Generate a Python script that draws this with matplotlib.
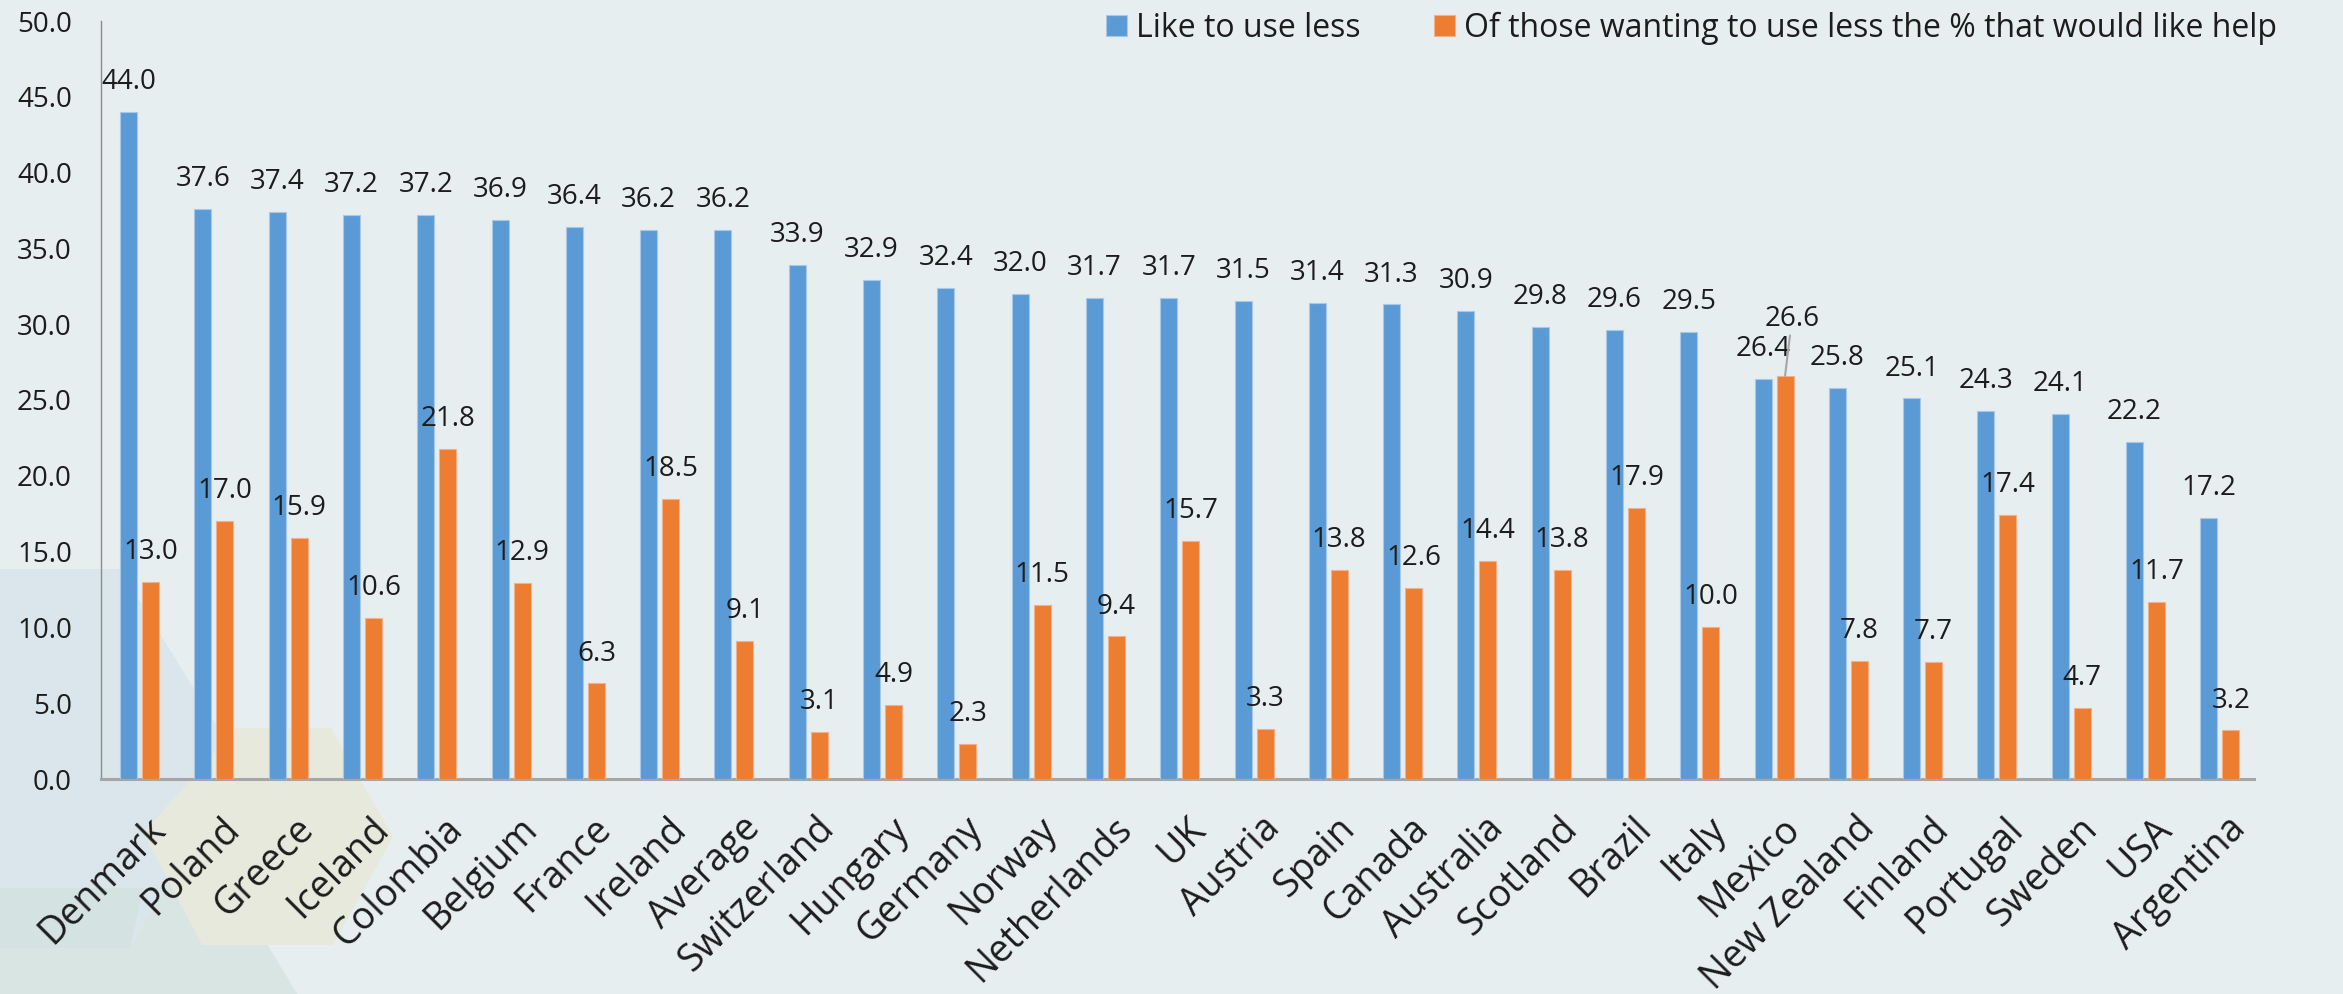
import matplotlib
matplotlib.use("Agg")
import matplotlib.pyplot as plt
import numpy as np
from matplotlib.patches import Polygon
from matplotlib.transforms import ScaledTranslation

plt.rcParams['font.family'] = ['Open Sans', 'DejaVu Sans']

categories = ["Denmark", "Poland", "Greece", "Iceland", "Colombia", "Belgium", "France",
              "Ireland", "Average", "Switzerland", "Hungary", "Germany", "Norway",
              "Netherlands", "UK", "Austria", "Spain", "Canada", "Australia", "Scotland",
              "Brazil", "Italy", "Mexico", "New Zealand", "Finland", "Portugal", "Sweden",
              "USA", "Argentina"]
like_less = [44.0, 37.6, 37.4, 37.2, 37.2, 36.9, 36.4, 36.2, 36.2, 33.9, 32.9, 32.4, 32.0,
             31.7, 31.7, 31.5, 31.4, 31.3, 30.9, 29.8, 29.6, 29.5, 26.4, 25.8, 25.1, 24.3,
             24.1, 22.2, 17.2]
want_help = [13.0, 17.0, 15.9, 10.6, 21.8, 12.9, 6.3, 18.5, 9.1, 3.1, 4.9, 2.3, 11.5,
             9.4, 15.7, 3.3, 13.8, 12.6, 14.4, 13.8, 17.9, 10.0, 26.6, 7.8, 7.7, 17.4,
             4.7, 11.7, 3.2]
series_names = ["Like to use less", "Of those wanting to use less the % that would like help"]
yticks = [0, 5, 10, 15, 20, 25, 30, 35, 40, 45, 50]

W, H = 2343, 994
BG = "#E6EEF0"
BLUE = "#5B9BD5"
ORANGE = "#ED7D31"
TXT = "#1c1c1c"

fig = plt.figure(figsize=(W / 100, H / 100), dpi=100, facecolor=BG)

def px(points):
    return [(x / W, 1 - y / H) for x, y in points]

# decorative background shapes (bottom-left)
shapes = [
    ([(0, 569), (120, 569), (250, 780), (200, 833), (297, 994), (0, 994)], "#DAE6EB"),
    ([(0, 948), (130, 948), (200, 833), (297, 994), (0, 994)], "#D9E5E2"),
    ([(0, 888), (143, 888), (130, 948), (0, 948)], "#D4E2E2"),
    ([(236, 728), (331, 728), (393, 837), (333, 945), (202, 945), (143, 833)], "#E6E9DC"),
]
for pts, col in shapes:
    fig.add_artist(Polygon(px(pts), closed=True, transform=fig.transFigure,
                           facecolor=col, edgecolor="none", zorder=-5))

ax = fig.add_axes([101 / W, 1 - 779 / H, (2254 - 101) / W, (779 - 21) / H])
ax.set_facecolor("none")

x = np.arange(len(categories))
bw = 0.229
off = 0.148
b1 = ax.bar(x - off, like_less, bw, color=BLUE, edgecolor="#A9C8E8", linewidth=0.8,
            label=series_names[0], zorder=3)
b2 = ax.bar(x + off, want_help, bw, color=ORANGE, edgecolor="#F3B08A", linewidth=0.8,
            label=series_names[1], zorder=3)

for xi, v in zip(x - off, like_less):
    ax.annotate(f"{v:.1f}", (xi, v), xytext=(0, 11.5), textcoords="offset points",
                ha="center", va="bottom", fontsize=20, color=TXT)
for i, (xi, v) in enumerate(zip(x + off, want_help)):
    if categories[i] == "Mexico":
        ax.annotate(f"{v:.1f}", (xi, v), xytext=(5, 31), textcoords="offset points",
                    ha="center", va="bottom", fontsize=20, color=TXT,
                    arrowprops=dict(arrowstyle="-", color="#a6a6a6", lw=1.5,
                                    shrinkA=0, shrinkB=0))
    else:
        ax.annotate(f"{v:.1f}", (xi, v), xytext=(0, 11.5), textcoords="offset points",
                    ha="center", va="bottom", fontsize=20, color=TXT)

ax.set_xlim(-0.52, len(categories) - 0.54)
ax.set_ylim(0, 50)
ax.set_yticks(yticks)
ax.set_yticklabels([f"{t:.1f}" for t in yticks], fontsize=20, color=TXT)
ax.set_xticks(x)
ax.set_xticklabels(categories, rotation=45, ha="right", rotation_mode="anchor",
                   fontsize=27, color=TXT)
ax.tick_params(axis="y", length=0, pad=21)
ax.tick_params(axis="x", length=0, pad=22)
shift = ScaledTranslation(7 / 100, 0, fig.dpi_scale_trans)
for lab in ax.get_xticklabels():
    lab.set_transform(lab.get_transform() + shift)

for s in ["top", "right"]:
    ax.spines[s].set_visible(False)
ax.spines["left"].set_color("#8c8c8c")
ax.spines["left"].set_linewidth(1.0)
ax.spines["bottom"].set_color("#a6a6a6")
ax.spines["bottom"].set_linewidth(2.2)

fig.legend(handles=[b1, b2], labels=series_names, loc="center right",
           bbox_to_anchor=(2277 / W, 1 - 28 / H), ncol=2, frameon=False,
           fontsize=23, handlelength=0.66, handleheight=0.66, handletextpad=0.28,
           columnspacing=2.3, borderpad=0, borderaxespad=0, labelcolor=TXT)

fig.savefig("out.png", dpi=100, facecolor=BG)
